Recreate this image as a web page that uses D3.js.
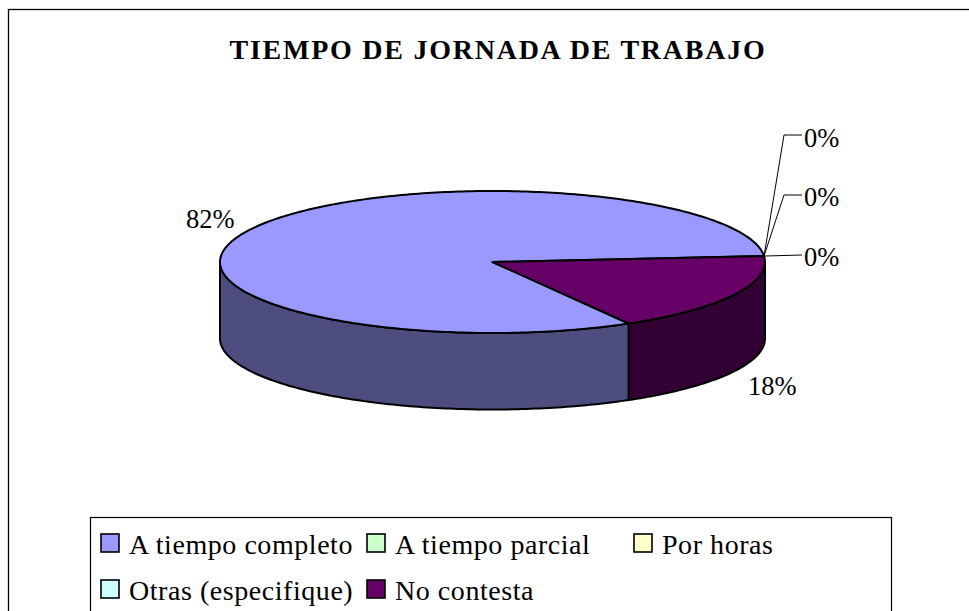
<!DOCTYPE html>
<html><head><meta charset="utf-8">
<script src="https://cdn.jsdelivr.net/npm/d3@7/dist/d3.min.js"></script>
<style>html,body{margin:0;padding:0;background:#fff;overflow:hidden}svg{display:block}text{font-family:"Liberation Serif",serif;fill:#000}</style>
</head><body><svg id="c" width="969" height="611"></svg>
<script>
const categories=["A tiempo completo","A tiempo parcial","Por horas","Otras (especifique)","No contesta"];
const values=[82,0,0,0,18];
const labels=["82%","0%","0%","0%","18%"];
const colors=["#9999ff","#ccffcc","#ffffcc","#ccffff","#660066"];
const darkColors=["#4d4d80","#668066","#808066","#668080","#330033"];
const titleText="TIEMPO DE JORNADA DE TRABAJO";

const svg=d3.select("#c");
svg.append("rect").attr("x",8.5).attr("y",9.5).attr("width",1000).attr("height",660).attr("fill","#fff").attr("stroke","#000").attr("stroke-width",1.3);
svg.append("text").attr("x",498).attr("y",59).attr("text-anchor","middle").attr("font-size",28).attr("font-weight","bold").attr("letter-spacing",1.75).text(titleText);

const cx=492.5,cy=262,rx=272.5,ry=71,depth=76.5;
const start=Math.PI/2+Math.PI/3;
const pie=d3.pie().sort(null).value(d=>d).startAngle(start).endAngle(start+2*Math.PI);
const arcs=pie(values);
const X=a=>cx+rx*Math.sin(a),Y=a=>cy-ry*Math.cos(a);
const line=d3.line();
const samples=(a0,a1,dy=0)=>{const n=Math.max(2,Math.ceil(Math.abs(a1-a0)*60));return d3.range(n+1).map(i=>{const a=a0+(a1-a0)*i/n;return [X(a),Y(a)+dy]})};
arcs.forEach((d,i)=>{
  if(d.endAngle===d.startAngle)return;
  [[d.startAngle,d.endAngle],[d.startAngle-2*Math.PI,d.endAngle-2*Math.PI]].forEach(([s,e])=>{
    const a0=Math.max(s,Math.PI/2),a1=Math.min(e,3*Math.PI/2);
    if(a1<=a0)return;
    const top=samples(a0,a1),bot=samples(a1,a0,depth);
    svg.append("path").attr("d",line(top.concat(bot))+"Z").attr("fill",darkColors[i]).attr("stroke","#000").attr("stroke-width",2).attr("stroke-linejoin","round");
  });
});
arcs.forEach((d,i)=>{
  if(d.endAngle===d.startAngle)return;
  const pts=[[cx,cy]].concat(samples(d.startAngle,d.endAngle));
  svg.append("path").attr("d",line(pts)+"Z").attr("fill",colors[i]).attr("stroke","#000").attr("stroke-width",2).attr("stroke-linejoin","round");
});
const zeroAngle=arcs[1].startAngle,ex=X(zeroAngle),ey=Y(zeroAngle);
const labelPos=[[186,228],[802,135],[802,195],[802,255],[748,395]];
[0,4].forEach(i=>svg.append("text").attr("x",labelPos[i][0]).attr("y",labelPos[i][1]).attr("font-size",26.5).text(labels[i]));
[1,2,3].forEach(i=>{
  const [lx,ly]=labelPos[i];
  const pts=i===3?[[ex,ey],[lx,ly]]:[[ex,ey],[lx-18,ly],[lx,ly]];
  svg.append("path").attr("d",line(pts)).attr("fill","none").attr("stroke","#000").attr("stroke-width",1);
  svg.append("text").attr("x",lx+2).attr("y",ly+(i===1?12:11)).attr("font-size",26.5).text(labels[i]);
});
svg.append("rect").attr("x",90.5).attr("y",517.5).attr("width",801).attr("height",110).attr("fill","#fff").attr("stroke","#000").attr("stroke-width",1.2);
const lx=[101,367,634,101,367],ly=[534,534,534,580,580];
categories.forEach((c,i)=>{
  svg.append("rect").attr("x",lx[i]).attr("y",ly[i]).attr("width",18).attr("height",18).attr("fill",colors[i]).attr("stroke","#000").attr("stroke-width",1.6);
  svg.append("text").attr("x",lx[i]+28).attr("y",ly[i]+19.5).attr("font-size",28).attr("letter-spacing",0.55).text(c);
});
</script></body></html>
